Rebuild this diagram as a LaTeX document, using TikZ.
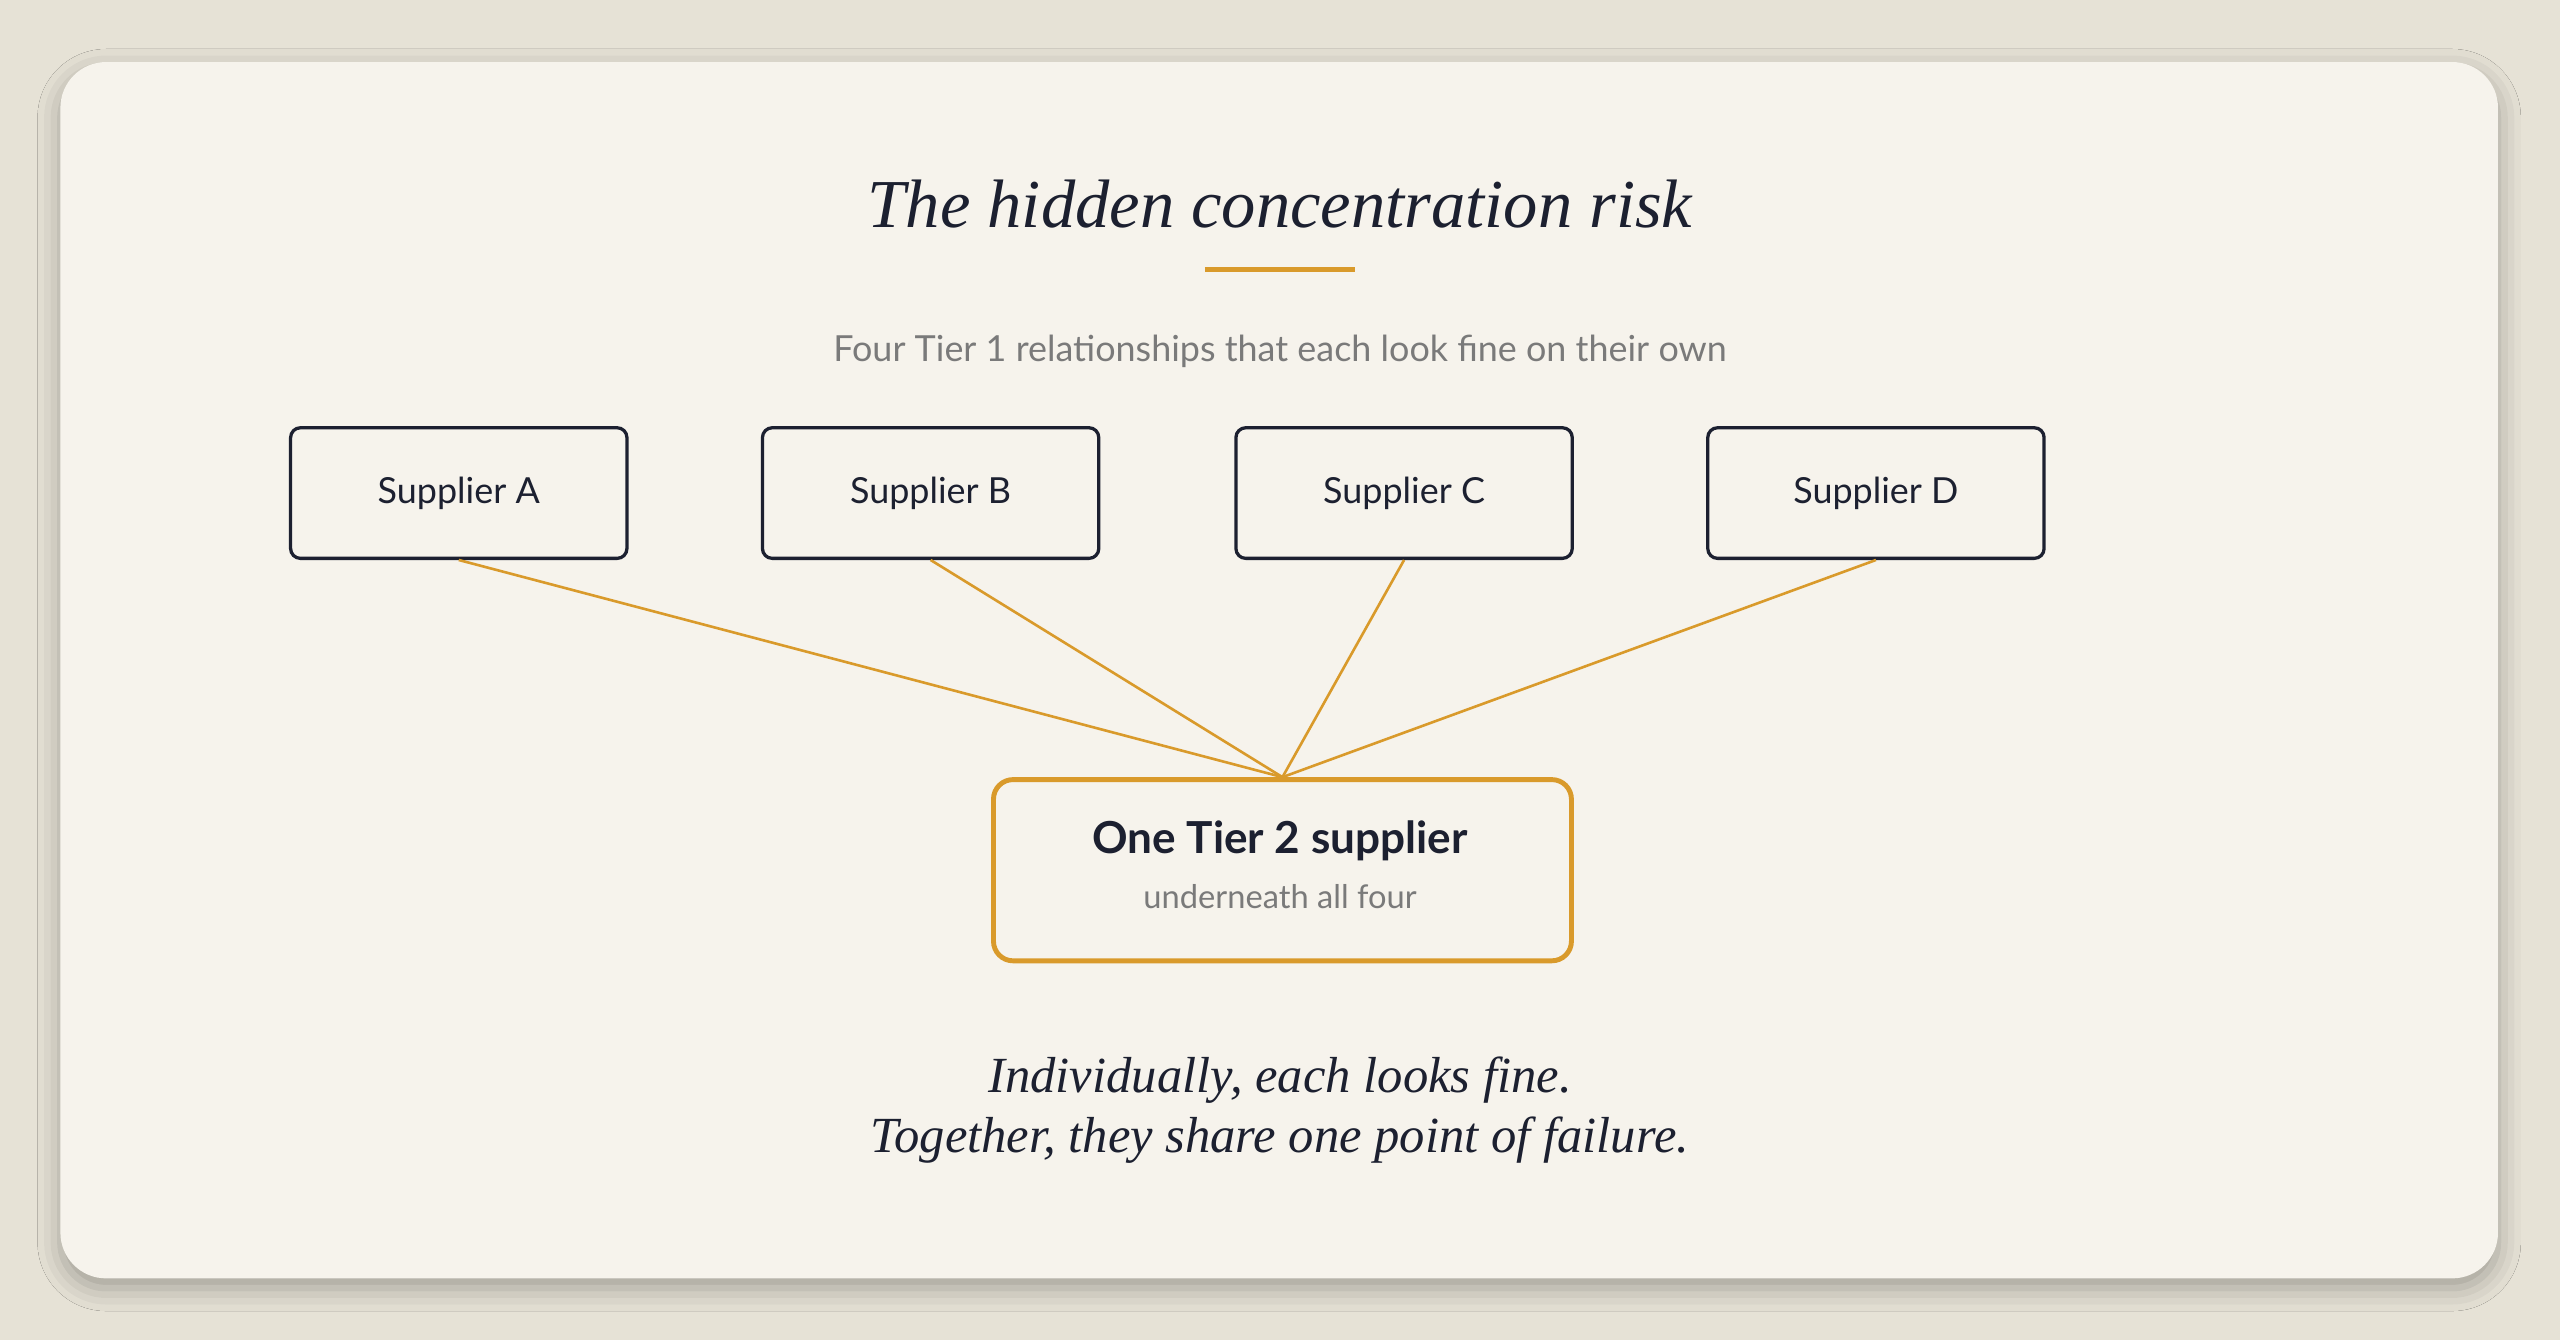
\documentclass[tikz,border=0pt]{standalone}
\usepackage{fontspec}
\setmainfont{Liberation Serif}
\newfontfamily\sans{Lato}
\usetikzlibrary{shadows.blur}
\definecolor{bg}{HTML}{E6E2D6}
\definecolor{card}{HTML}{F6F3EC}
\definecolor{ink}{HTML}{1C2030}
\definecolor{gold}{HTML}{D99A2B}
\definecolor{muted}{HTML}{7A7A7A}
\begin{document}
\begin{tikzpicture}[x=1pt,y=-1pt,
  sup/.style={draw=ink,line width=2pt,rounded corners=6pt,minimum width=206pt,minimum height=80pt,font=\sans\fontsize{22}{26}\selectfont,text=ink,anchor=north west},
  link/.style={draw=gold,line width=1.6pt}]
\fill[bg] (0,0) rectangle (1568,821);
\useasboundingbox (0,0) rectangle (1568,821);
\fill[card,rounded corners=28pt,blur shadow={shadow blur radius=14pt,shadow xshift=0pt,shadow yshift=-6pt,shadow opacity=30}] (37,38) rectangle (1530,783);
\node (title) at (784,125) {\fontsize{42}{48}\selectfont\itshape\color{ink} The hidden concentration risk};
\draw[gold,line width=3pt] (738,165) -- (830,165);
\node (sub) at (784,215) {\sans\fontsize{22}{26}\selectfont\color{muted} Four Tier 1 relationships that each look fine on their own};
\node[sup] (a) at (177,261) {Supplier A};
\node[sup] (b) at (466,261) {Supplier B};
\node[sup] (c) at (756,261) {Supplier C};
\node[sup] (d) at (1045,261) {Supplier D};
\node[draw=gold,line width=3pt,rounded corners=12pt,minimum width=354pt,minimum height=111pt,anchor=north west] (t2) at (607,476) {};
\node (t2a) at (784,515) {\sans\bfseries\fontsize{27}{32}\selectfont\color{ink} One Tier 2 supplier};
\node (t2b) at (784,549) {\sans\fontsize{20}{24}\selectfont\color{muted} underneath all four};
\foreach \s in {a,b,c,d} \draw[link] (\s.south) -- (t2.north);
\node[align=center,text=ink,font=\fontsize{31}{37}\selectfont\itshape] (foot) at (784,680) {Individually, each looks fine.\\Together, they share one point of failure.};
\end{tikzpicture}
\end{document}
